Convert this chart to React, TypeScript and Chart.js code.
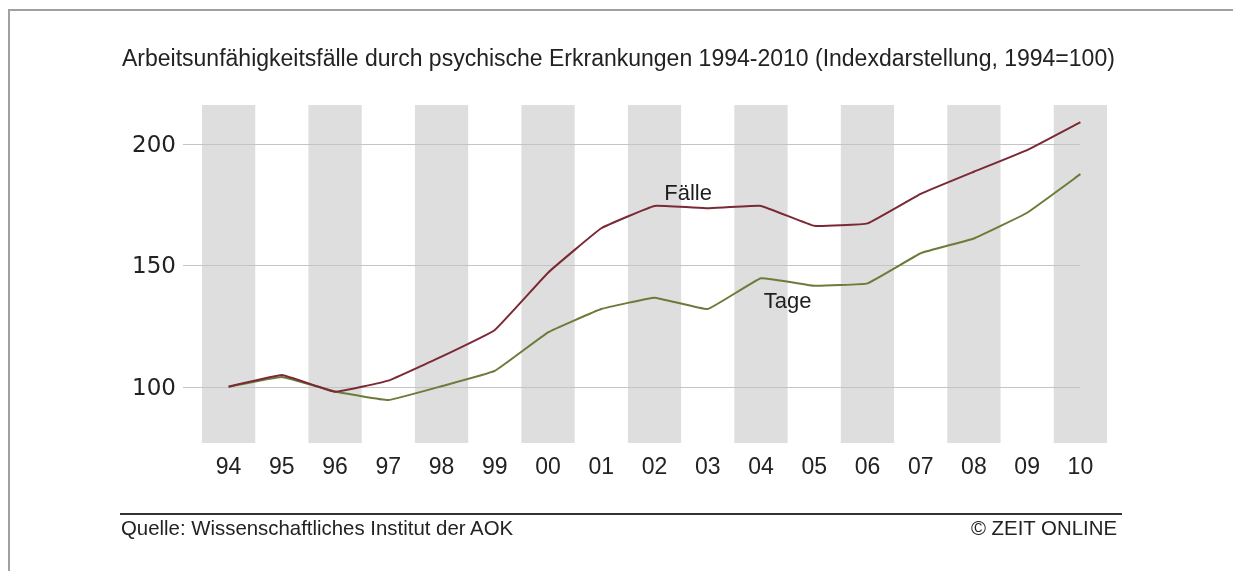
import React, { useEffect, useRef } from "react";
import { Chart, registerables } from "chart.js";

Chart.register(...registerables);

const years = ["94", "95", "96", "97", "98", "99", "00", "01", "02", "03", "04", "05", "06", "07", "08", "09", "10"];
const faelle = [100, 104.8, 97.9, 102.5, 112.4, 123.4, 147, 165.3, 174.5, 173.5, 174.5, 166.3, 167.3, 179.5, 188.6, 197.5, 209];
const tage = [100, 104, 98, 94.5, 100.2, 106.5, 122.4, 132, 136.7, 132, 144.7, 141.6, 142.6, 155, 161.1, 171.7, 187.6];
const yTicks = [100, 150, 200];
const yMin = 76.8;
const yMax = 216.1;

const titleText = "Arbeitsunfähigkeitsfälle durch psychische Erkrankungen 1994-2010 (Indexdarstellung, 1994=100)";
const sourceText = "Quelle: Wissenschaftliches Institut der AOK";
const creditText = "© ZEIT ONLINE";

const bandsPlugin = {
  id: "bands",
  beforeDatasetsDraw(chart: any) {
    const { ctx, chartArea, scales } = chart;
    const xs = scales.x;
    const ys = scales.y;
    const step = xs.getPixelForValue(1) - xs.getPixelForValue(0);
    ctx.save();
    ctx.fillStyle = "#dedede";
    for (let i = 0; i < years.length; i += 2) {
      const cx = xs.getPixelForValue(i);
      ctx.fillRect(cx - step / 2, chartArea.top, step, chartArea.bottom - chartArea.top);
    }
    ctx.strokeStyle = "#c4c4c4";
    ctx.lineWidth = 1;
    const x0 = chartArea.left - 19;
    const x1 = xs.getPixelForValue(years.length - 1);
    for (const v of yTicks) {
      const y = Math.round(ys.getPixelForValue(v)) + 0.5;
      ctx.beginPath();
      ctx.moveTo(x0, y);
      ctx.lineTo(x1, y);
      ctx.stroke();
    }
    ctx.restore();
  },
  afterDatasetsDraw(chart: any) {
    const { ctx, scales } = chart;
    const xs = scales.x;
    const ys = scales.y;
    ctx.save();
    ctx.fillStyle = "#1e1e1e";
    ctx.font = "22px 'Liberation Sans', Arial, sans-serif";
    ctx.textAlign = "center";
    ctx.textBaseline = "middle";
    const fx = (xs.getPixelForValue(8) + xs.getPixelForValue(9)) / 2 + 7;
    ctx.fillText("Fälle", fx, ys.getPixelForValue(179.5));
    const tx = (xs.getPixelForValue(10) + xs.getPixelForValue(11)) / 2;
    ctx.fillText("Tage", tx, ys.getPixelForValue(134.8));
    ctx.restore();
  },
};

export default function App() {
  const canvasRef = useRef<HTMLCanvasElement | null>(null);

  useEffect(() => {
    if (!canvasRef.current) return;
    const chart = new Chart(canvasRef.current, {
      type: "line",
      data: {
        labels: years,
        datasets: [
          {
            label: "Fälle",
            data: faelle,
            borderColor: "#7a2935",
            borderWidth: 2,
            pointRadius: 0,
            tension: 0.08,
            fill: false,
          },
          {
            label: "Tage",
            data: tage,
            borderColor: "#6a7b3a",
            borderWidth: 2,
            pointRadius: 0,
            tension: 0.08,
            fill: false,
          },
        ],
      },
      options: {
        responsive: false,
        animation: false,
        devicePixelRatio: 1,
        layout: { padding: { left: 0, top: 105, right: 126, bottom: 0 } },
        plugins: {
          legend: { display: false },
          tooltip: { enabled: false },
          title: { display: false },
        },
        scales: {
          x: {
            type: "category",
            offset: true,
            grid: { display: false, drawTicks: false },
            border: { display: false },
            ticks: {
              autoSkip: false,
              maxRotation: 0,
              padding: 11,
              color: "#222",
              font: { family: "'Liberation Sans', Arial, sans-serif", size: 23 },
            },
            afterFit: (s: any) => {
              s.height = 128;
            },
          },
          y: {
            min: yMin,
            max: yMax,
            grid: { display: false, drawTicks: false },
            border: { display: false },
            ticks: {
              padding: 26,
              labelOffset: 2,
              color: "#222",
              font: { family: "'DejaVu Sans', Verdana, sans-serif", size: 23 },
            },
            afterBuildTicks: (s: any) => {
              s.ticks = yTicks.map((v) => ({ value: v }));
            },
            afterFit: (s: any) => {
              s.width = 202;
            },
          },
        },
      },
      plugins: [bandsPlugin],
    });
    return () => chart.destroy();
  }, []);

  return (
    <div
      style={{
        position: "absolute",
        left: 0,
        top: 0,
        width: 1233,
        height: 571,
        overflow: "hidden",
        background: "#fff",
        fontFamily: "'Liberation Sans', Arial, sans-serif",
      }}
    >
      <div
        style={{
          position: "absolute",
          left: 8,
          top: 9,
          width: 1400,
          height: 700,
          borderTop: "2px solid #a0a0a0",
          borderLeft: "2px solid #a0a0a0",
        }}
      />
      <canvas
        ref={canvasRef}
        width={1233}
        height={571}
        style={{ position: "absolute", left: 0, top: 0, width: 1233, height: 571 }}
      />
      <div
        style={{
          position: "absolute",
          left: 122,
          top: 46.5,
          fontSize: 23,
          lineHeight: "23px",
          color: "#222",
          whiteSpace: "nowrap",
        }}
      >
        {titleText}
      </div>
      <div
        style={{
          position: "absolute",
          left: 120,
          top: 513,
          width: 1002,
          height: 2,
          background: "#333",
        }}
      />
      <div
        style={{
          position: "absolute",
          left: 121,
          top: 518,
          fontSize: 20.4,
          lineHeight: "20px",
          color: "#222",
          whiteSpace: "nowrap",
        }}
      >
        {sourceText}
      </div>
      <div
        style={{
          position: "absolute",
          right: 1233 - 1117,
          top: 518,
          fontSize: 20.4,
          lineHeight: "20px",
          color: "#222",
          whiteSpace: "nowrap",
        }}
      >
        {creditText}
      </div>
    </div>
  );
}
